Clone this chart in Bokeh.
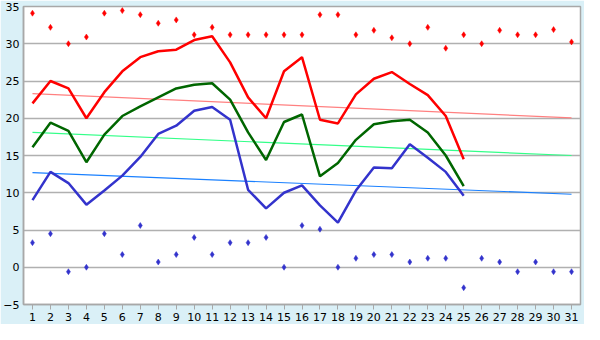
from bokeh.plotting import figure
from bokeh.models import Range1d, FixedTicker
from bokeh.embed import file_html
from bokeh.resources import INLINE

days_all = list(range(1, 32))
days_obs = list(range(1, 26))

max_temp = [22.0, 25.0, 24.0, 20.0, 23.5, 26.3, 28.2, 29.0, 29.2, 30.5, 31.0, 27.5, 22.8,
            20.0, 26.3, 28.2, 19.8, 19.3, 23.2, 25.3, 26.2, 24.6, 23.1, 20.3, 14.5]
mean_temp = [16.1, 19.4, 18.3, 14.1, 17.8, 20.3, 21.6, 22.8, 24.0, 24.5, 24.7, 22.5, 18.1,
             14.4, 19.5, 20.5, 12.2, 14.0, 17.1, 19.2, 19.6, 19.8, 18.1, 15.0, 10.9]
min_temp = [9.0, 12.8, 11.3, 8.4, 10.3, 12.3, 14.8, 17.9, 19.0, 21.0, 21.5, 19.8, 10.4,
            7.9, 10.0, 11.0, 8.3, 6.0, 10.3, 13.4, 13.3, 16.5, 14.7, 12.8, 9.6]

record_max = [34.1, 32.2, 30.0, 30.9, 34.1, 34.45, 33.9, 32.75, 33.2, 31.2, 32.2, 31.2, 31.2,
              31.2, 31.2, 31.2, 33.9, 33.9, 31.2, 31.8, 30.8, 30.0, 32.2, 29.4, 31.2, 30.0,
              31.8, 31.2, 31.2, 31.9, 30.25]
record_min = [3.3, 4.5, -0.6, 0.0, 4.5, 1.7, 5.6, 0.7, 1.7, 4.0, 1.7, 3.3, 3.3, 4.0, 0.0,
              5.6, 5.1, 0.0, 1.2, 1.7, 1.7, 0.7, 1.2, 1.2, -2.75, 1.2, 0.7, -0.6, 0.7, -0.6, -0.6]

trend_days = [1, 31]
trend_max = [23.3, 20.05]
trend_mean = [18.1, 15.0]
trend_min = [12.7, 9.8]

y_ticks = [-5, 0, 5, 10, 15, 20, 25, 30, 35]

p = figure(width=584, height=324, output_backend="svg", toolbar_location=None,
           x_range=Range1d(0.5, 31.5), y_range=Range1d(-5, 35),
           min_border_left=20, min_border_right=4, min_border_top=6, min_border_bottom=20)

p.background_fill_color = "white"
p.border_fill_color = "#DAF0F7"
p.outline_line_color = "#A8A8A8"
p.outline_line_width = 1.5

p.xgrid.grid_line_color = None
p.ygrid.grid_line_color = "#B0B0B0"
p.ygrid.grid_line_width = 1.5
p.ygrid.ticker = FixedTicker(ticks=y_ticks)

p.xaxis.ticker = FixedTicker(ticks=days_all)
p.yaxis.ticker = FixedTicker(ticks=y_ticks)
for ax in (p.xaxis, p.yaxis):
    ax.axis_line_color = "#A8A8A8"
    ax.axis_line_width = 1.5
    ax.major_tick_line_color = "#A8A8A8"
    ax.major_tick_in = 0
    ax.minor_tick_line_color = None
    ax.major_label_text_font = "DejaVu Sans"
    ax.major_label_text_font_size = "11px"
    ax.major_label_text_color = "#000000"
p.xaxis.major_tick_out = 5
p.xaxis.major_label_standoff = 3
p.yaxis.major_tick_out = 0
p.yaxis.major_label_standoff = 4

# trend lines
p.line(trend_days, trend_max, line_color="#FF8080", line_width=1.2)
p.line(trend_days, trend_mean, line_color="#33FF88", line_width=1.2)
p.line(trend_days, trend_min, line_color="#1A80FF", line_width=1.2)

# main series
p.line(days_obs, max_temp, line_color="#FF0000", line_width=2.5)
p.line(days_obs, mean_temp, line_color="#006600", line_width=2.5)
p.line(days_obs, min_temp, line_color="#3333CC", line_width=2.5)

# records
p.scatter(days_all, record_max, marker="diamond", size=6, fill_color="#FF0000",
          line_color="#FF0000", line_width=0.5)
p.scatter(days_all, record_min, marker="diamond", size=6, fill_color="#3333CC",
          line_color="#3333CC", line_width=0.5)

open("out.html", "w").write(file_html(p, INLINE))
